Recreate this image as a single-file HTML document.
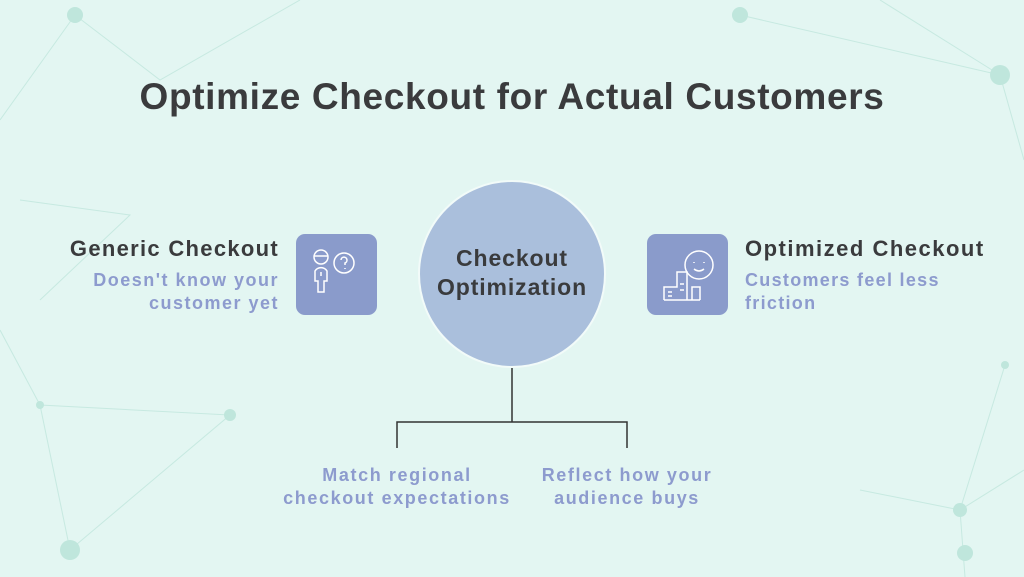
<!DOCTYPE html>
<html><head><style>
body{margin:0;width:1024px;height:577px;overflow:hidden;background:#e3f6f2;font-family:"Liberation Sans",sans-serif;position:relative}
.a{position:absolute;white-space:nowrap}
.t{font-weight:bold;color:#3a3b3d}
.s{font-weight:bold;color:#8d9bce;font-size:18px;line-height:23px;letter-spacing:1px}
.box{position:absolute;width:81px;height:81px;background:#8a9bcb;border-radius:9px}
</style></head><body>
<svg class="a" style="left:0;top:0" width="1024" height="577">
<g stroke="#bfe6dc" stroke-width="1" fill="none" opacity=".8">
<path d="M75 15 L160 80 L300 0 M0 120 L75 15 M740 15 L1000 75 L880 0 M1000 75 L1024 160 M40 405 L0 330 M40 405 L70 550 L230 415 L40 405 M1005 365 L960 510 L1024 470 M860 490 L960 510 L965 577 M20 200 L130 215 L40 300"/>
</g>
<g fill="#bfe6dc"><circle cx="75" cy="15" r="8"/><circle cx="740" cy="15" r="8"/><circle cx="1000" cy="75" r="10"/><circle cx="70" cy="550" r="10"/><circle cx="960" cy="510" r="7"/><circle cx="965" cy="553" r="8"/><circle cx="40" cy="405" r="4"/><circle cx="230" cy="415" r="6"/><circle cx="1005" cy="365" r="4"/></g>
<circle cx="512" cy="274" r="93" fill="#aabfdc" stroke="#f2fbf9" stroke-width="2"/>
<path d="M512 368 V422 M397 448 V422 H627 V448" stroke="#333" stroke-width="1.5" fill="none"/>
</svg>
<div class="a t" style="left:0;width:1024px;top:76px;text-align:center;font-size:37px;letter-spacing:0.65px">Optimize Checkout for Actual Customers</div>
<div class="a t" style="left:400px;width:224px;top:244px;text-align:center;font-size:23px;line-height:29px;letter-spacing:0.9px">Checkout<br>Optimization</div>
<div class="box" style="left:296px;top:234px"></div>
<div class="box" style="left:647px;top:234px"></div>
<svg class="a" style="left:296px;top:234px" width="81" height="81" fill="none" stroke="#fff" stroke-width="1.5">
<circle cx="25" cy="23" r="7"/><path d="M18 22 H32"/><circle cx="48" cy="29" r="10"/><path d="M45 26 a3 3 0 1 1 4 3 v2 M49 34 v1"/><path d="M19 37 a7 7 0 0 1 12 0 v10 h-3 v11 h-6 v-11 h-3 z M25 38 v4"/>
</svg>
<svg class="a" style="left:647px;top:234px" width="81" height="81" fill="none" stroke="#fff" stroke-width="1.5">
<circle cx="52" cy="31" r="14"/><path d="M47 35 q5 4 10 0 M47 28 v1 M57 28 v1 M17 66 H53 M17 66 V53 H30 V38 H40 V66 M45 66 V53 H53 V66 M21 58h4M21 62h4M33 50h4M33 56h4"/>
</svg>
<div class="a t" style="right:745px;top:236px;font-size:22px;text-align:right;letter-spacing:1.3px">Generic Checkout</div>
<div class="a s" style="right:745px;top:269px;text-align:right;letter-spacing:1.5px">Doesn't know your<br>customer yet</div>
<div class="a t" style="left:745px;top:236px;font-size:22px;letter-spacing:1.5px">Optimized Checkout</div>
<div class="a s" style="left:745px;top:269px;letter-spacing:1.3px">Customers feel less<br>friction</div>
<div class="a s" style="left:247px;width:300px;top:464px;text-align:center;letter-spacing:1.6px">Match regional<br>checkout expectations</div>
<div class="a s" style="left:477px;width:300px;top:464px;text-align:center;letter-spacing:1.6px">Reflect how your<br>audience buys</div>
</body></html>
